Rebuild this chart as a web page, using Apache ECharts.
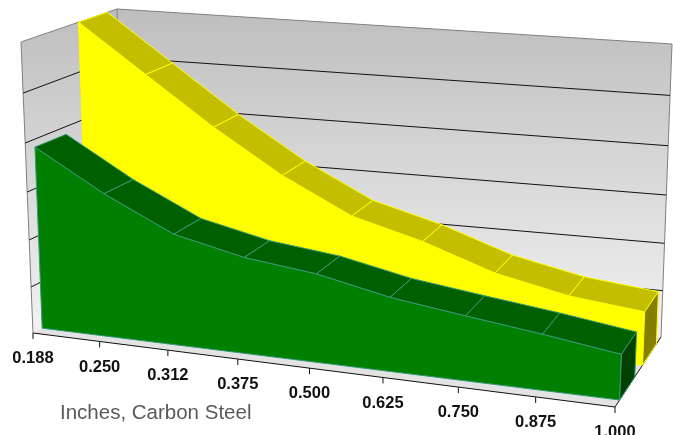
<!DOCTYPE html>
<html><head><meta charset="utf-8">
<style>html,body{margin:0;padding:0;background:#fff}#c{width:673px;height:435px}</style>
<script src="https://cdn.jsdelivr.net/npm/echarts@6/dist/echarts.min.js"></script>
</head><body><div id="c"></div>
<script>
const categories = ['0.188','0.250','0.312','0.375','0.500','0.625','0.750','0.875','1.000'];
const yellowValues = [6.0,5.05,4.09,3.22,2.51,2.12,1.61,1.29,1.12];
const greenValues = [3.84,3.03,2.35,2.03,1.86,1.55,1.35,1.16,0.94];
const gridTicks = [0,1,2,3,4,5,6];
const axisTitle = 'Inches, Carbon Steel';

const W = 673, H = 435;
// box corners of the 3D frame: [x, y] for (X,Y,Z) corners
const CORNERS = {
  A:[33,333], B:[615,407], C:[661,337], D:[125,285],
  E:[21,42],  H:[628,98],  G:[672,44],  F:[117,9]
};
const warp = (t, w) => (1 + w) * t / (1 + w * t);
function lerp(a, b, t) { return [a[0] + (b[0] - a[0]) * t, a[1] + (b[1] - a[1]) * t]; }
// takes a pixel from the hidden cartesian grid and a depth, returns the projected pixel
function project(p, z) {
  const tx = warp(p[0] / W, -0.095), ty = warp(1 - p[1] / H, -0.06);
  const c = CORNERS;
  const bottom = lerp(lerp(c.A, c.B, tx), lerp(c.D, c.C, tx), z);
  const top = lerp(lerp(c.E, c.H, tx), lerp(c.F, c.G, tx), z);
  return lerp(bottom, top, ty);
}
function poly(points, fill, stroke, lw) {
  return { type: 'polygon', shape: { points }, style: { fill, stroke: stroke || 'none', lineWidth: lw || 0 } };
}
function line(a, b, stroke, lw) {
  return { type: 'line', shape: { x1: a[0], y1: a[1], x2: b[0], y2: b[1] }, style: { stroke, lineWidth: lw || 1 } };
}
function wallFill() {
  return new echarts.graphic.LinearGradient(0, 0, 0, 1, [
    { offset: 0, color: '#BEBEBE' }, { offset: 1, color: '#F2F2F2' }]);
}
const last = categories.length - 1;

function renderWalls(params, api) {
  const v = api.value(1), kids = [];
  const at = (i, val, z) => project(api.coord([i, val]), z);
  if (params.dataIndex === 0) {
    const top = gridTicks[gridTicks.length - 1];
    const a = at(0, 0, 0), b = at(last, 0, 0), c = at(last, 0, 1), d = at(0, 0, 1);
    const e = at(0, top, 0), f = at(0, top, 1), g = at(last, top, 1);
    kids.push(poly([d, c, g, f], wallFill()));
    kids.push(poly([a, d, f, e], wallFill()));
    kids.push(poly([a, b, c, d], '#E3E3E3'));
    kids.push(line(e, f, '#808080'), line(f, g, '#808080'), line(e, a, '#808080'),
      line(g, c, '#808080'), line(f, d, '#808080'));
  } else if (v > 0) {
    const a = at(0, v, 0), d = at(0, v, 1), c = at(last, v, 1);
    if (v < gridTicks[gridTicks.length - 1]) kids.push(line(a, d, '#111'), line(d, c, '#111'));
  }
  return { type: 'group', children: kids };
}
function areaRenderer(values, z0, z1, front, topC, side, edge) {
  return function (params, api) {
    const i = params.dataIndex, kids = [];
    const at = (k, val, z) => project(api.coord([k, val]), z);
    if (i === 0) {
      const pts = values.map((v, k) => at(k, v, z0));
      pts.push(at(last, 0, z0), at(0, 0, z0));
      kids.push(poly(pts, front, edge, 1));
    }
    if (i < last) {
      kids.push(poly([at(i, values[i], z0), at(i + 1, values[i + 1], z0),
        at(i + 1, values[i + 1], z1), at(i, values[i], z1)], topC, edge, 1));
    } else {
      kids.push(poly([at(i, values[i], z0), at(i, values[i], z1), at(i, 0, z1), at(i, 0, z0)], side, edge, 1));
    }
    return { type: 'group', children: kids };
  };
}
function renderXAxis(params, api) {
  const i = params.dataIndex;
  const p = project(api.coord([i, 0]), 0);
  const kids = [line(p, [p[0], p[1] + 6], '#111')];
  kids.push({ type: 'text', style: { x: p[0], y: p[1] + 25.5, text: categories[i], align: 'center', verticalAlign: 'middle',
    font: 'bold 16.5px "Liberation Sans", Arial, sans-serif', fill: '#111' } });
  if (i < last) kids.push(line(p, project(api.coord([i + 1, 0]), 0), '#111'));
  else kids.push(line(p, project(api.coord([i, 0]), 1), '#111'));
  return { type: 'group', children: kids };
}
const chart = echarts.init(document.getElementById('c'), null, { renderer: 'canvas' });
chart.setOption({
  animation: false,
  backgroundColor: '#fff',
  title: { text: axisTitle, left: 60, top: 403, padding: 0,
    textStyle: { fontFamily: '"Liberation Sans", Arial, sans-serif', fontSize: 20.5, fontWeight: 'normal', color: '#5a5a5a' } },
  grid: { left: 0, top: 0, width: W, height: H, containLabel: false },
  xAxis: { type: 'category', data: categories, boundaryGap: false, show: false },
  yAxis: { type: 'value', min: 0, max: 6, interval: 1, show: false },
  series: [
    { type: 'custom', name: 'frame', clip: false, silent: true, z: 1, data: gridTicks.map(v => [0, v]), renderItem: renderWalls },
    { type: 'custom', name: 'axis', clip: false, silent: true, z: 2, data: categories.map((c, i) => [i, 0]), renderItem: renderXAxis },
    { type: 'custom', name: 'yellow', clip: false, silent: true, z: 3, data: yellowValues.map((v, i) => [i, v]),
      renderItem: areaRenderer(yellowValues, 0.6, 0.9, '#FFFF00', '#C4BE00', '#857F00', '#FFFF00') },
    { type: 'custom', name: 'green', clip: false, silent: true, z: 4, data: greenValues.map((v, i) => [i, v]),
      renderItem: areaRenderer(greenValues, 0.1, 0.43, '#007F00', '#006000', '#004000', '#339977') }
  ]
});
</script></body></html>
